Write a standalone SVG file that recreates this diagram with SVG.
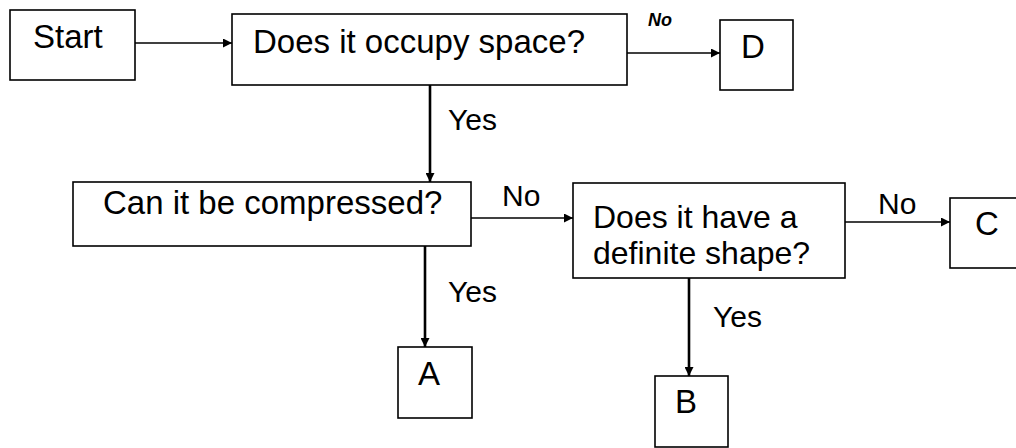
<svg xmlns="http://www.w3.org/2000/svg" width="1016" height="448" viewBox="0 0 1016 448">
<defs>
<marker id="ah" viewBox="0 0 10 10" refX="10" refY="5" markerWidth="10" markerHeight="9" markerUnits="userSpaceOnUse" orient="auto">
<path d="M0,0 L10,5 L0,10 z" fill="#000"/>
</marker>
</defs>
<style>
.box{fill:#fff;stroke:#000;stroke-width:1.6}
.t{font-family:"Liberation Sans",Arial,sans-serif;font-size:33px;fill:#000}
.t2{font-family:"Liberation Sans",Arial,sans-serif;font-size:32px;fill:#000}
.lbl{font-family:"Liberation Sans",Arial,sans-serif;font-size:30px;fill:#000}
.sm{font-family:"Liberation Sans",Arial,sans-serif;font-size:18px;font-style:italic;font-weight:bold;fill:#000}
.h{stroke:#000;stroke-width:1.6;fill:none}
.v{stroke:#000;stroke-width:2.6;fill:none}
</style>
<rect width="1016" height="448" fill="#fff"/>
<g id="connectors">
<line class="h" x1="135" y1="43" x2="232" y2="43" marker-end="url(#ah)"/>
<line class="h" x1="627" y1="53" x2="720" y2="53" marker-end="url(#ah)"/>
<line class="v" x1="430" y1="85" x2="430" y2="182" marker-end="url(#ah)"/>
<line class="h" x1="471" y1="218" x2="573" y2="218" marker-end="url(#ah)"/>
<line class="h" x1="845" y1="222" x2="950" y2="222" marker-end="url(#ah)"/>
<line class="v" x1="425" y1="246" x2="425" y2="347" marker-end="url(#ah)"/>
<line class="v" x1="689" y1="278" x2="689" y2="376" marker-end="url(#ah)"/>
<text class="sm" x="648" y="26">No</text>
<text class="lbl" x="448" y="130">Yes</text>
<text class="lbl" x="502" y="206">No</text>
<text class="lbl" x="878" y="214">No</text>
<text class="lbl" x="448" y="302">Yes</text>
<text class="lbl" x="713" y="327">Yes</text>
</g>
<g id="start">
<rect class="box" x="10" y="10" width="125" height="70"/>
<text class="t" x="33" y="48">Start</text>
</g>
<g id="occupy">
<rect class="box" x="232" y="14" width="395" height="71"/>
<text class="t" x="253" y="53">Does it occupy space?</text>
</g>
<g id="D">
<rect class="box" x="720" y="20" width="73" height="70"/>
<text class="t" x="753" y="58" text-anchor="middle">D</text>
</g>
<g id="compressed">
<rect class="box" x="73" y="182" width="398" height="64"/>
<text class="t" x="103" y="214">Can it be compressed?</text>
</g>
<g id="shape">
<rect class="box" x="573" y="183" width="272" height="95"/>
<text class="t2" x="593" y="228">Does it have a</text>
<text class="t2" x="593" y="264">definite shape?</text>
</g>
<g id="C">
<rect class="box" x="950" y="198" width="80" height="70"/>
<text class="t" x="975" y="235">C</text>
</g>
<g id="A">
<rect class="box" x="398" y="347" width="74" height="71"/>
<text class="t" x="429" y="385" text-anchor="middle">A</text>
</g>
<g id="B">
<rect class="box" x="655" y="376" width="73" height="71"/>
<text class="t" x="686" y="413" text-anchor="middle">B</text>
</g>
</svg>
